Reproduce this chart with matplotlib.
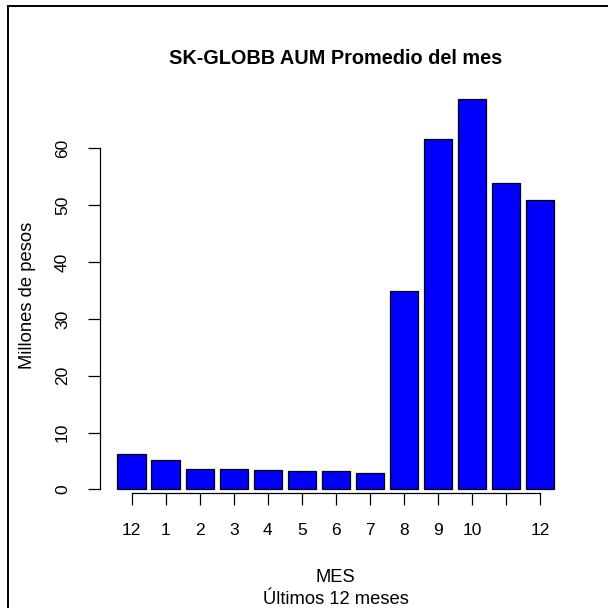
import matplotlib
matplotlib.use("Agg")
import matplotlib.pyplot as plt
from matplotlib.lines import Line2D

months = ["12", "1", "2", "3", "4", "5", "6", "7", "8", "9", "10", "", "12"]
values = [6.25, 5.1, 3.55, 3.55, 3.35, 3.2, 3.15, 2.95, 35.0, 61.6, 68.7, 53.9, 51.0]
yticks = [0, 10, 20, 30, 40, 50, 60]

title = "SK-GLOBB AUM Promedio del mes"
ylabel = "Millones de pesos"
xlabel1 = "MES"
xlabel2 = "Últimos 12 meses"

plt.rcParams["font.family"] = ["Liberation Sans", "DejaVu Sans"]

W = H = 608
fig = plt.figure(figsize=(W / 100, H / 100), dpi=100)
left, right, top, bottom = 100, 571.5, 83.4, 505
ax = fig.add_axes([left / W, 1 - bottom / H, (right - left) / W, (bottom - top) / H])

n = len(values)
centers = [0.7 + 1.2 * i for i in range(n)]
ax.bar(centers, values, width=1.0, color="#0000FF", edgecolor="black", linewidth=0.9)

xmin, xmax = 0.2, centers[-1] + 0.5
dx = (xmax - xmin) * 0.04
ax.set_xlim(xmin - dx, xmax + dx)
vmax = max(values)
ax.set_ylim(-0.04 * vmax, 1.04 * vmax)

for s in ["top", "right"]:
    ax.spines[s].set_visible(False)

ax.spines["left"].set_bounds(yticks[0], yticks[-1])
ax.spines["left"].set_linewidth(0.9)
ax.set_yticks(yticks)
ax.set_yticklabels([str(t) for t in yticks], rotation=90, va="center")
ax.tick_params(axis="y", direction="out", length=8.6, width=0.9, pad=13, labelsize=12.5)

ax.spines["bottom"].set_position(("axes", 12 / (bottom - top)))
ax.spines["bottom"].set_bounds(centers[0], centers[-1])
ax.spines["bottom"].set_linewidth(0.9)
ax.set_xticks(centers)
ax.set_xticklabels(months)
ax.tick_params(axis="x", direction="out", length=8.6, width=0.9, pad=13, labelsize=12.5)

cx = (left + right) / 2 / W
fig.text(cx, 1 - 58 / H, title, ha="center", va="center", fontsize=14.3, fontweight="bold")
fig.text(28 / W, 1 - 295 / H, ylabel, ha="center", va="center", rotation=90, fontsize=13.2)
fig.text(cx, 1 - 577 / H, xlabel1, ha="center", va="center", fontsize=13.2)
fig.text(cx, 1 - 600 / H, xlabel2, ha="center", va="center", fontsize=13.2)

fig.add_artist(Line2D([8 / W, 8 / W], [0, 1 - 6 / H], color="black", linewidth=1.4))
fig.add_artist(Line2D([8 / W, 1], [1 - 6 / H, 1 - 6 / H], color="black", linewidth=1.4))

fig.savefig("out.png", dpi=100)
